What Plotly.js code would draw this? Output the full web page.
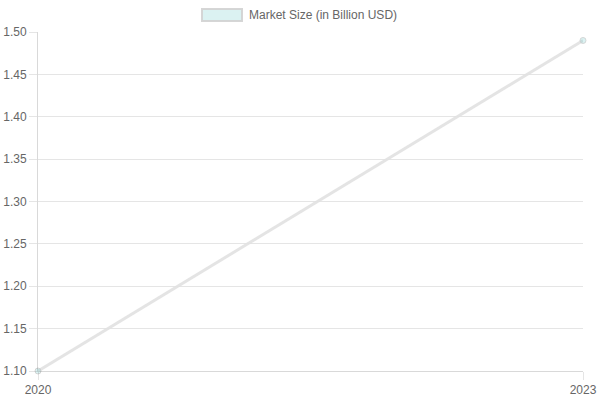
<!DOCTYPE html>
<html>
<head>
<meta charset="utf-8">
<script src="https://cdn.plot.ly/plotly-3.0.1.min.js"></script>
<style>
  html, body { margin: 0; padding: 0; background: #fff; }
  #chart { width: 600px; height: 400px; }
</style>
</head>
<body>
<div id="chart"></div>
<script>
// data
const years = ["2020", "2023"];
const marketSize = [1.10, 1.49];
const seriesName = "Market Size (in Billion USD)";
const yTicks = [1.10, 1.15, 1.20, 1.25, 1.30, 1.35, 1.40, 1.45, 1.50];

const font = { family: "Liberation Sans, Arial, Helvetica, sans-serif", size: 12, color: "#666" };

const trace = {
    x: years,
    y: marketSize,
    type: "scatter",
    mode: "lines+markers",
    name: seriesName,
    showlegend: false,
    cliponaxis: false,
    line: { color: "rgba(225,225,225,0.9)", width: 3 },
    marker: {
        size: 6,
        color: "rgba(75,192,192,0.2)",
        line: { color: "rgba(205,205,205,0.8)", width: 1 }
    }
};

const layout = {
    width: 600,
    height: 400,
    margin: { l: 38, r: 17, t: 32, b: 29 },
    paper_bgcolor: "#fff",
    plot_bgcolor: "#fff",
    font: font,
    showlegend: false,
    xaxis: {
        type: "category",
        range: [0, 1],
        showgrid: true,
        gridcolor: "rgba(0,0,0,0.1)",
        showline: true,
        linecolor: "rgba(0,0,0,0.15)",
        ticks: "outside",
        ticklen: 8,
        tickcolor: "rgba(0,0,0,0.1)",
        zeroline: false,
        tickfont: font
    },
    yaxis: {
        range: [1.10, 1.50],
        tickvals: yTicks,
        ticktext: yTicks.map(v => v.toFixed(2)),
        showgrid: true,
        gridcolor: "rgba(0,0,0,0.1)",
        showline: true,
        linecolor: "rgba(0,0,0,0.15)",
        ticks: "outside",
        ticklen: 8,
        tickcolor: "rgba(0,0,0,0.1)",
        zeroline: false,
        tickfont: font
    },
    // Chart.js-style legend box at the top
    shapes: [{
        type: "rect",
        xref: "paper", yref: "paper",
        x0: (202 - 38) / 545, x1: (242 - 38) / 545,
        y0: (371 - 21) / 339, y1: (371 - 9) / 339,
        fillcolor: "rgba(75,192,192,0.2)",
        line: { color: "rgba(210,210,210,0.9)", width: 2 }
    }],
    annotations: [{
        xref: "paper", yref: "paper",
        x: (247 - 38) / 545, y: (371 - 15) / 339,
        xanchor: "left", yanchor: "middle",
        text: seriesName,
        showarrow: false,
        font: font
    }]
};

Plotly.newPlot("chart", [trace], layout, { displayModeBar: false, staticPlot: true });
</script>
</body>
</html>
